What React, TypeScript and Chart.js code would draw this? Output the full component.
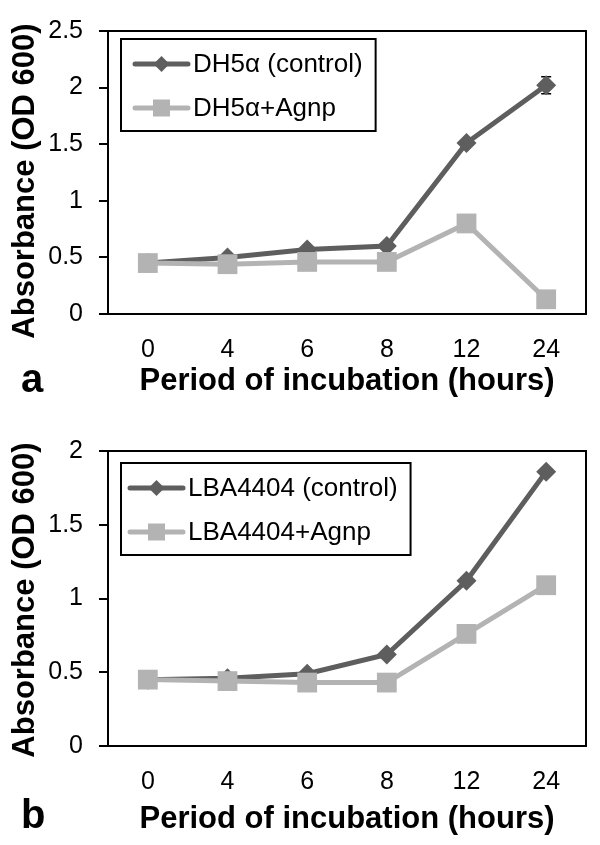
import React, { useEffect, useRef } from "react";
import { Chart, registerables } from "chart.js";

Chart.register(...registerables);

// ---------- data ----------
const hours = ["0", "4", "6", "8", "12", "24"];

const dh5aControlLabel = "DH5\u03b1 (control)";
const dh5aAgnpLabel = "DH5\u03b1+Agnp";
const dh5aControl = [0.45, 0.5, 0.57, 0.6, 1.51, 2.02];
const dh5aControlErr = [0, 0, 0, 0, 0, 0.075];
const dh5aAgnp = [0.45, 0.44, 0.46, 0.46, 0.8, 0.13];

const lbaControlLabel = "LBA4404 (control)";
const lbaAgnpLabel = "LBA4404+Agnp";
const lbaControl = [0.45, 0.46, 0.49, 0.62, 1.12, 1.86];
const lbaAgnp = [0.45, 0.44, 0.43, 0.43, 0.76, 1.09];

const yMaxA = 2.5;
const yMaxB = 2;
const yStep = 0.5;

const xTitle = "Period of incubation (hours)";
const yTitle = "Absorbance (OD 600)";

// ---------- style ----------
const DARK = "#5e5e5e";
const LIGHT = "#b3b3b3";
const FONT = "'Liberation Sans', Arial, Helvetica, sans-serif";

function drawMarker(ctx: CanvasRenderingContext2D, style: string, x: number, y: number, r: number, color: string) {
  ctx.save();
  ctx.fillStyle = color;
  ctx.beginPath();
  if (style === "rectRot") {
    ctx.moveTo(x - r, y);
    ctx.lineTo(x, y - r);
    ctx.lineTo(x + r, y);
    ctx.lineTo(x, y + r);
    ctx.closePath();
  } else {
    ctx.rect(x - r, y - r, 2 * r, 2 * r);
  }
  ctx.fill();
  ctx.restore();
}

const decoPlugin = {
  id: "deco",
  beforeDatasetsDraw(chart: any, _a: any, opts: any) {
    const { ctx, chartArea: a } = chart;
    ctx.save();
    ctx.strokeStyle = "#000";
    ctx.lineWidth = 2;
    ctx.beginPath();
    ctx.moveTo(a.left, a.top);
    ctx.lineTo(a.right, a.top);
    ctx.lineTo(a.right, a.bottom);
    ctx.stroke();
    // error bars
    const yS = chart.scales.y;
    chart.data.datasets.forEach((ds: any, di: number) => {
      if (!ds.errors) return;
      const meta = chart.getDatasetMeta(di);
      ds.errors.forEach((e: number, i: number) => {
        if (!e) return;
        const pt = meta.data[i];
        const v = ds.data[i];
        const y1 = yS.getPixelForValue(v + e);
        const y2 = yS.getPixelForValue(v - e);
        ctx.strokeStyle = "#000";
        ctx.lineWidth = 1.5;
        ctx.beginPath();
        ctx.moveTo(pt.x, y1);
        ctx.lineTo(pt.x, y2);
        ctx.moveTo(pt.x - 5, y1);
        ctx.lineTo(pt.x + 5, y1);
        ctx.moveTo(pt.x - 5, y2);
        ctx.lineTo(pt.x + 5, y2);
        ctx.stroke();
      });
    });
    ctx.restore();
  },
  afterDraw(chart: any, _a: any, opts: any) {
    const { ctx, chartArea: a } = chart;
    ctx.save();
    // legend
    const dsets = chart.data.datasets;
    ctx.font = `26px ${FONT}`;
    const textW = Math.max(...dsets.map((d: any) => ctx.measureText(d.label).width));
    const boxL = a.left + opts.legendDx;
    const boxT = a.top + opts.legendDy;
    const sampleX = boxL + opts.sampleInset;
    const sampleLen = 53;
    const textX = sampleX + sampleLen + 5;
    const boxW = textX + textW + 13 - boxL;
    const boxH = 92;
    ctx.fillStyle = "#fff";
    ctx.fillRect(boxL, boxT, boxW, boxH);
    ctx.strokeStyle = "#000";
    ctx.lineWidth = 2;
    ctx.strokeRect(boxL, boxT, boxW, boxH);
    dsets.forEach((d: any, i: number) => {
      const y = boxT + 25 + i * 44;
      ctx.strokeStyle = d.borderColor;
      ctx.lineWidth = d.borderWidth;
      ctx.lineCap = "round";
      ctx.beginPath();
      ctx.moveTo(sampleX, y);
      ctx.lineTo(sampleX + sampleLen, y);
      ctx.stroke();
      drawMarker(ctx, d.pointStyle, sampleX + sampleLen / 2, y, d.pointStyle === "rectRot" ? 8 : 8.5, d.pointBackgroundColor);
      ctx.fillStyle = "#000";
      ctx.textAlign = "left";
      ctx.textBaseline = "middle";
      ctx.fillText(d.label, textX, y + 1);
    });
    // axis titles
    ctx.fillStyle = "#000";
    ctx.font = `bold 31px ${FONT}`;
    ctx.textAlign = "center";
    ctx.textBaseline = "alphabetic";
    ctx.fillText(xTitle, (a.left + a.right) / 2, a.bottom + opts.xTitleDy);
    ctx.save();
    ctx.translate(opts.yTitleX, opts.yTitleCy);
    ctx.rotate(-Math.PI / 2);
    ctx.textBaseline = "middle";
    ctx.fillText(yTitle, 0, 0);
    ctx.restore();
    // panel letter
    ctx.font = `bold 40px ${FONT}`;
    ctx.textAlign = "left";
    ctx.textBaseline = "alphabetic";
    ctx.fillText(opts.letter, 21, opts.letterY);
    ctx.restore();
  },
};

type PanelProps = {
  height: number;
  top: number;
  areaTop: number;
  areaBottom: number;
  yMax: number;
  control: number[];
  controlErr?: number[];
  agnp: number[];
  controlLabel: string;
  agnpLabel: string;
  letter: string;
  letterY: number;
  xTitleDy: number;
  yTitleCy: number;
  legendDx: number;
  legendDy: number;
  sampleInset: number;
};

function Panel(p: PanelProps) {
  const ref = useRef<HTMLCanvasElement | null>(null);
  useEffect(() => {
    if (!ref.current) return;
    const chart = new Chart(ref.current, {
      type: "line",
      data: {
        labels: hours,
        datasets: [
          {
            label: p.controlLabel,
            data: p.control,
            errors: p.controlErr,
            borderColor: DARK,
            backgroundColor: DARK,
            pointBackgroundColor: DARK,
            pointBorderColor: DARK,
            borderWidth: 5,
            pointStyle: "rectRot",
            pointRadius: 10,
            pointBorderWidth: 0,
            tension: 0,
            order: 1,
          } as any,
          {
            label: p.agnpLabel,
            data: p.agnp,
            borderColor: LIGHT,
            backgroundColor: LIGHT,
            pointBackgroundColor: LIGHT,
            pointBorderColor: LIGHT,
            borderWidth: 5,
            pointStyle: "rect",
            pointRadius: 14,
            pointBorderWidth: 0,
            tension: 0,
            order: 0,
          } as any,
        ],
      },
      options: {
        animation: false,
        responsive: false,
        events: [],
        layout: { padding: { top: p.areaTop, right: 2, left: 0, bottom: 0 } },
        plugins: {
          legend: { display: false },
          tooltip: { enabled: false },
          deco: {
            letter: p.letter,
            letterY: p.letterY,
            xTitleDy: p.xTitleDy,
            yTitleX: 25,
            yTitleCy: p.yTitleCy,
            legendDx: p.legendDx,
            legendDy: p.legendDy,
            sampleInset: p.sampleInset,
          },
        } as any,
        scales: {
          x: {
            type: "category",
            offset: true,
            grid: { display: true, drawOnChartArea: false, drawTicks: false },
            border: { display: true, color: "#000", width: 2 },
            ticks: { color: "#000", font: { family: FONT, size: 25 }, padding: 21, maxRotation: 0 },
            afterFit: (s: any) => {
              s.height = p.height - p.areaBottom;
            },
          },
          y: {
            min: 0,
            max: p.yMax,
            grid: { drawOnChartArea: false, drawTicks: true, tickLength: 9, color: "#000", lineWidth: 2 },
            border: { display: true, color: "#000", width: 2 },
            ticks: {
              stepSize: yStep,
              color: "#000",
              font: { family: FONT, size: 25 },
              padding: 16,
              callback: (v: any) => String(Number(v)),
            },
            afterFit: (s: any) => {
              s.width = 108;
            },
          },
        },
      },
      plugins: [decoPlugin as any],
    });
    return () => chart.destroy();
  }, []);
  return (
    <div style={{ position: "absolute", left: 0, top: p.top, width: 600, height: p.height }}>
      <canvas ref={ref} width={600} height={p.height} style={{ display: "block" }} />
    </div>
  );
}

export default function App() {
  return (
    <div style={{ position: "absolute", left: 0, top: 0, width: 600, height: 845, background: "#fff" }}>
      <Panel
        height={420}
        top={0}
        areaTop={14}
        areaBottom={314}
        yMax={yMaxA}
        control={dh5aControl}
        controlErr={dh5aControlErr}
        agnp={dh5aAgnp}
        controlLabel={dh5aControlLabel}
        agnpLabel={dh5aAgnpLabel}
        letter="a"
        letterY={392}
        xTitleDy={76}
        yTitleCy={181}
        legendDx={13}
        legendDy={8}
        sampleInset={14}
      />
      <Panel
        height={425}
        top={420}
        areaTop={25}
        areaBottom={326}
        yMax={yMaxB}
        control={lbaControl}
        agnp={lbaAgnp}
        controlLabel={lbaControlLabel}
        agnpLabel={lbaAgnpLabel}
        letter="b"
        letterY={408}
        xTitleDy={82}
        yTitleCy={180}
        legendDx={13}
        legendDy={12}
        sampleInset={9}
      />
    </div>
  );
}
